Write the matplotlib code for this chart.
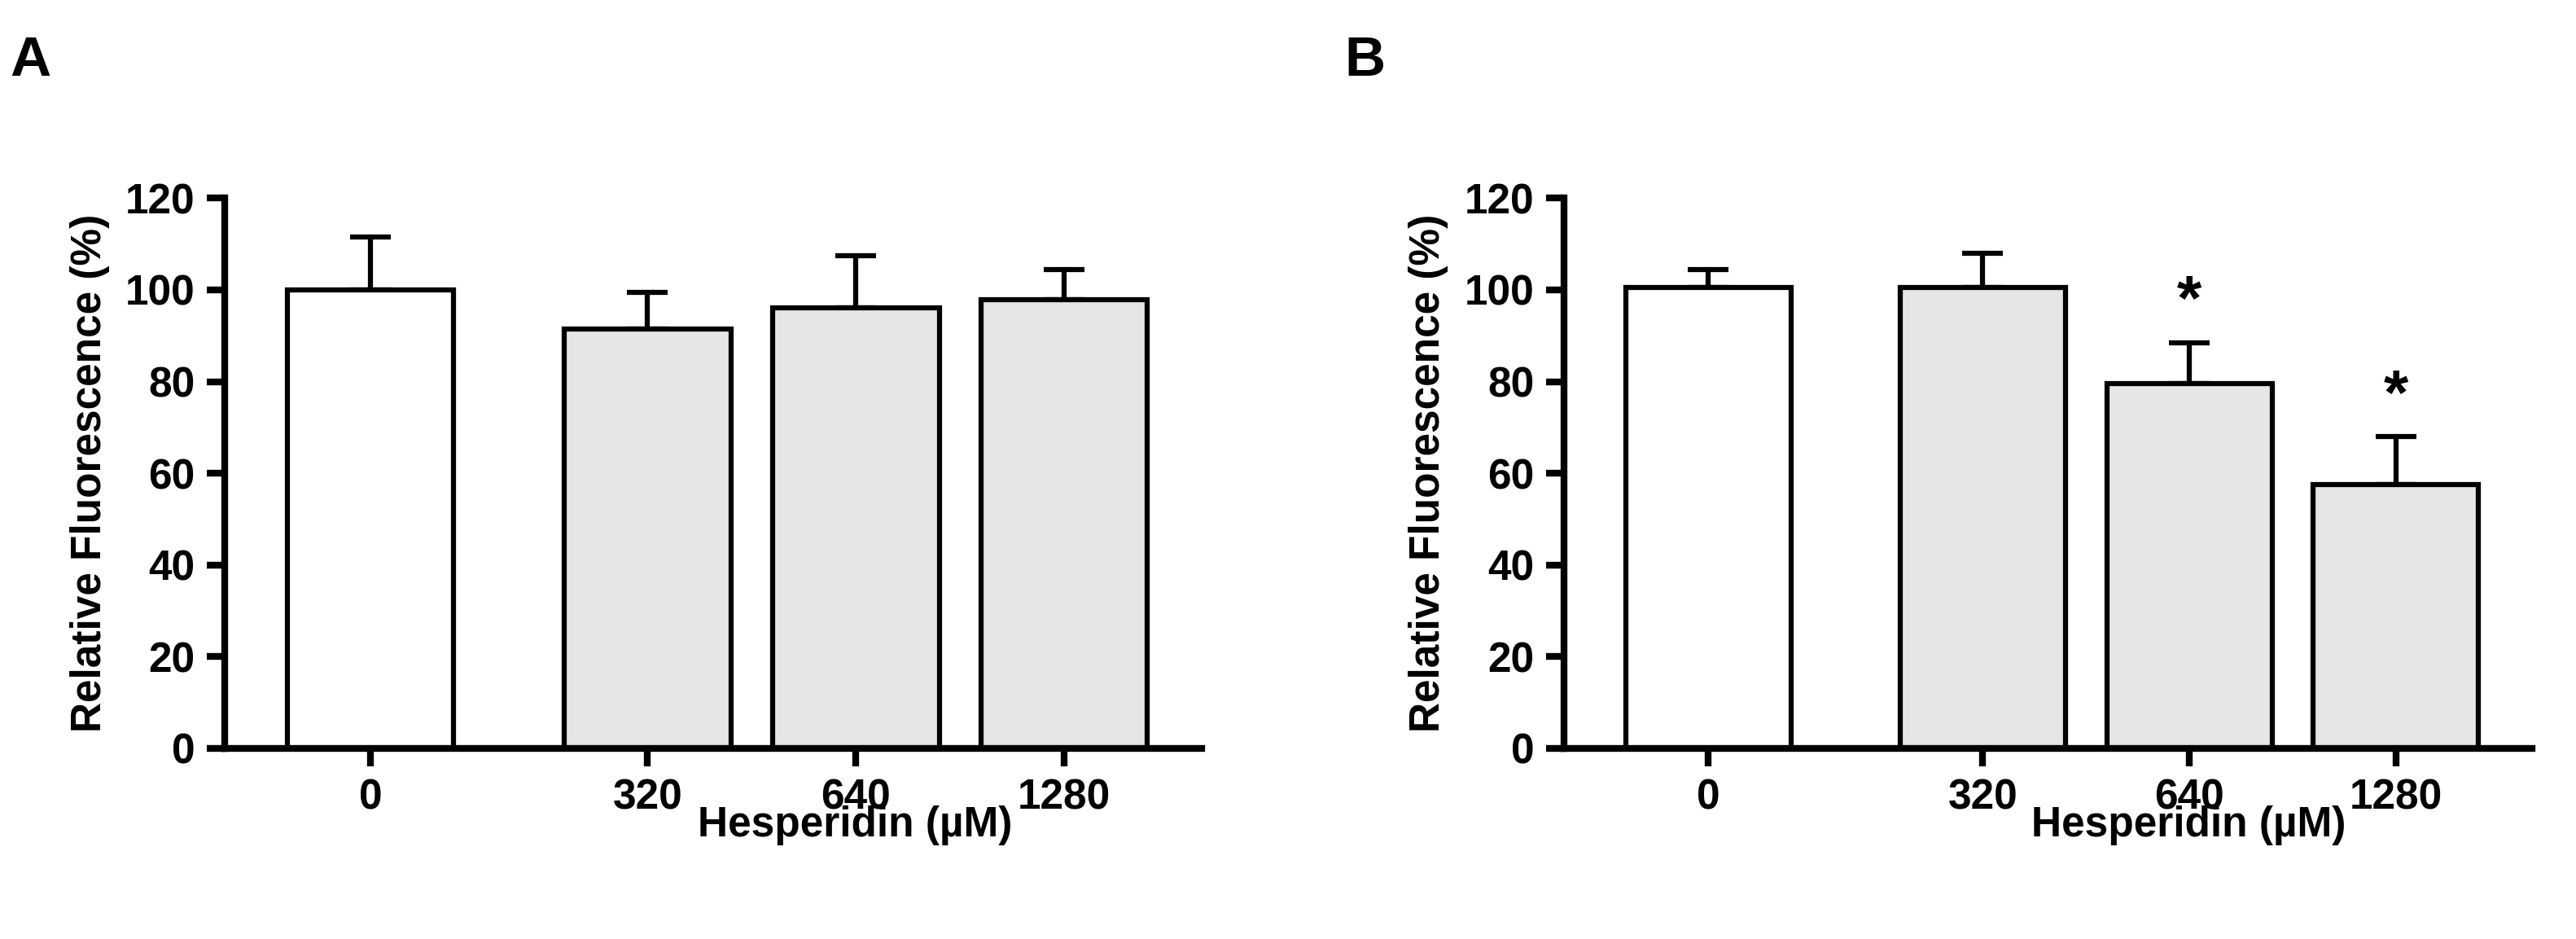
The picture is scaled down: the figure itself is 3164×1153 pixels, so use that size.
import matplotlib.pyplot as plt

plt.rcParams['font.family'] = ['Liberation Sans', 'DejaVu Sans']
plt.rcParams['font.weight'] = 'bold'

doses = ["0", "320", "640", "1280"]
positions = [0, 1.33, 2.33, 3.33]
colors = ["white", "#e6e6e6", "#e6e6e6", "#e6e6e6"]

mean_a = [100, 91.5, 96, 97.8]
sd_a = [11.5, 8.0, 11.5, 6.7]
mean_b = [100.5, 100.5, 79.5, 57.5]
sd_b = [4.0, 7.5, 9.0, 10.5]
sig_b = ["", "", "*", "*"]

fig = plt.figure(figsize=(31.64, 11.53), dpi=100)

def draw_panel(rect, means, sds, stars, letter, lx):
    ax = fig.add_axes(rect)
    ax.bar(positions, means, width=0.8, color=colors, edgecolor="black",
           linewidth=4.5, zorder=2)
    ax.errorbar(positions, means, yerr=[[0] * len(sds), sds], fmt="none",
                ecolor="black", elinewidth=4.5, capsize=18, capthick=4.5, zorder=1)
    for p, m, s, st in zip(positions, means, sds, stars):
        if st:
            ax.text(p, m + s + 2, st, ha="center", va="bottom", fontsize=56,
                    fontweight="bold")
    ax.set_xlim(-0.70, 3.99)
    ax.set_ylim(0, 120)
    ax.set_yticks(range(0, 121, 20))
    ax.set_xticks(positions)
    ax.set_xticklabels(doses)
    for side in ["top", "right"]:
        ax.spines[side].set_visible(False)
    for side in ["left", "bottom"]:
        ax.spines[side].set_linewidth(6)
    ax.tick_params(axis="both", width=6, length=16, labelsize=37, pad=10)
    ax.set_ylabel("Relative Fluorescence (%)", fontsize=37, fontweight="bold", labelpad=14)
    ax.set_xlabel("Hesperidin (\u00b5M)", fontsize=37, fontweight="bold")
    ax.xaxis.set_label_coords(0.645, -0.14)
    ax.xaxis.label.set_va("center")
    fig.text(lx, 0.935, letter, fontsize=50, fontweight="bold", va="center")
    return ax

draw_panel([0.0872, 0.203, 0.3793, 0.586], mean_a, sd_a, ["", "", "", ""], "A", 0.004)
draw_panel([0.607, 0.203, 0.376, 0.586], mean_b, sd_b, sig_b, "B", 0.522)

fig.savefig("out.png", dpi=100)
